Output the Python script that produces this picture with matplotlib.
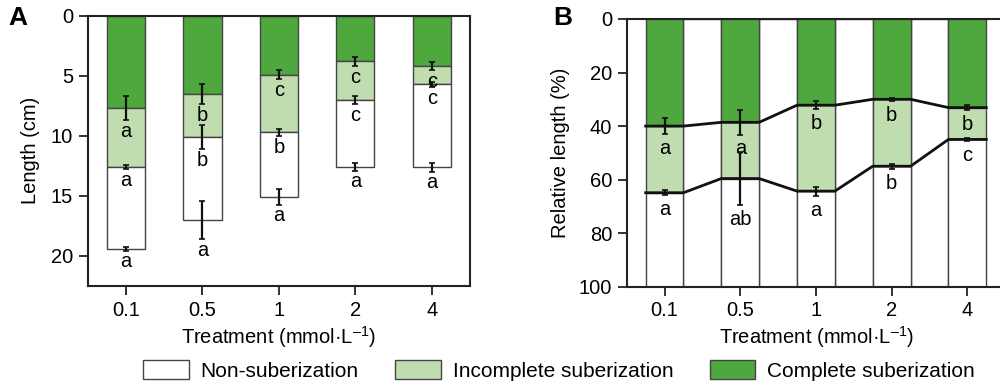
import numpy as np
import matplotlib.pyplot as plt
from matplotlib.patches import Patch

plt.rcParams['font.family'] = ['Liberation Sans', 'DejaVu Sans']
plt.rcParams['mathtext.fontset'] = 'custom'
plt.rcParams['mathtext.rm'] = 'Liberation Sans'
plt.rcParams['mathtext.default'] = 'regular'

# treatments
treat = ['0.1', '0.5', '1', '2', '4']

# panel A: segment lengths (cm), from root tip downward
a_complete = [7.7, 6.5, 4.9, 3.8, 4.2]
a_incomplete = [4.9, 3.6, 4.8, 3.2, 1.5]
a_non = [6.8, 6.9, 5.4, 5.6, 6.9]
a_err1 = [1.0, 0.83, 0.35, 0.35, 0.35]
a_err2 = [0.15, 1.0, 0.28, 0.32, 0.22]
a_err3 = [0.15, 1.6, 0.64, 0.3, 0.37]
a_let1 = ['a', 'b', 'c', 'c', 'c']
a_let2 = ['a', 'b', 'b', 'c', 'c']
a_let3 = ['a', 'a', 'a', 'a', 'a']

# panel B: relative length (%)
b_complete = [40.0, 38.6, 32.2, 30.0, 33.1]
b_incomplete = [24.9, 21.0, 32.1, 25.0, 11.9]
b_err1 = [3.1, 4.6, 1.55, 0.6, 1.0]
b_err2 = [0.9, 9.8, 1.7, 1.0, 0.5]
b_let1 = ['a', 'a', 'b', 'b', 'b']
b_let2 = ['a', 'ab', 'a', 'b', 'c']

DARK = '#4fa83e'
LIGHT = '#c0ddb0'
EDGE = '#444444'
FS = 14.5

fig = plt.figure(figsize=(10, 3.9), dpi=100)
ax1 = fig.add_axes([0.0877, 0.2667, 0.3823, 0.693])
ax2 = fig.add_axes([0.6267, 0.2649, 0.3785, 0.6864])

x = np.arange(len(treat))
w = 0.5


def letters(ax, xs, ys, labs, off):
    for xi, yi, t in zip(xs, ys, labs):
        ax.annotate(t, (xi, yi), xytext=(0, -off), textcoords='offset points',
                    ha='center', va='top', fontsize=FS)


# ---- A ----
c1 = np.array(a_complete)
c2 = c1 + np.array(a_incomplete)
c3 = c2 + np.array(a_non)
ax1.bar(x, c1, w, color=DARK, edgecolor=EDGE, lw=1, zorder=2)
ax1.bar(x, a_incomplete, w, bottom=c1, color=LIGHT, edgecolor=EDGE, lw=1, zorder=2)
ax1.bar(x, a_non, w, bottom=c2, color='white', edgecolor=EDGE, lw=1, zorder=2)
for cum, err in [(c1, a_err1), (c2, a_err2), (c3, a_err3)]:
    ax1.errorbar(x, cum, yerr=err, fmt='none', ecolor='#111111', elinewidth=1.6,
                 capsize=2.2, capthick=1.2, zorder=3)
letters(ax1, x, c1 + np.array(a_err1), a_let1, 1.5)
letters(ax1, x, c2 + np.array(a_err2), a_let2, 1.5)
letters(ax1, x, c3 + np.array(a_err3), a_let3, 1.0)
ax1.set_xlim(-0.5, 4.5)
ax1.set_ylim(22.5, 0)
ax1.set_yticks([0, 5, 10, 15, 20])
ax1.set_ylabel('Length (cm)', fontsize=FS, labelpad=8)

# ---- B ----
d1 = np.array(b_complete)
d2 = d1 + np.array(b_incomplete)
gaps = x[:-1] + 0.5
ax2.bar(gaps, 100, w, color='white', edgecolor=EDGE, lw=1, zorder=1)
ax2.bar(x, d1, w, color=DARK, edgecolor=EDGE, lw=1, zorder=2)
ax2.bar(x, b_incomplete, w, bottom=d1, color=LIGHT, edgecolor=EDGE, lw=1, zorder=2)
ax2.bar(x, 100 - d2, w, bottom=d2, color='white', edgecolor=EDGE, lw=1, zorder=2)
for cum in [d1, d2]:
    xs = np.column_stack([x - w / 2, x + w / 2]).ravel()
    ys = np.repeat(cum, 2)
    ax2.plot(xs, ys, color='#111111', lw=2, zorder=3)
for cum, err in [(d1, b_err1), (d2, b_err2)]:
    ax2.errorbar(x, cum, yerr=err, fmt='none', ecolor='#111111', elinewidth=1.6,
                 capsize=2.2, capthick=1.2, zorder=4)
letters(ax2, x, d1 + np.array(b_err1), b_let1, 3.5)
letters(ax2, x, d2 + np.array(b_err2), b_let2, 3.5)
ax2.set_xlim(-0.5, 4.5)
ax2.set_ylim(100, 0)
ax2.set_yticks([0, 20, 40, 60, 80, 100])
ax2.set_ylabel('Relative length (%)', fontsize=FS, labelpad=6)
ax2.spines['right'].set_visible(False)

for ax in (ax1, ax2):
    ax.set_xticks(x)
    ax.set_xticklabels(treat)
    ax.set_xlabel('Treatment (mmol·L$^{–1}$)', fontsize=FS, labelpad=3)
    ax.tick_params(labelsize=FS, length=6.5, width=1.3, pad=4, color='#222222')
    for s in ax.spines.values():
        s.set_linewidth(1.5)
        s.set_color('#222222')

fig.text(0.008, 0.955, 'A', fontsize=19, fontweight='bold', va='center')
fig.text(0.553, 0.955, 'B', fontsize=19, fontweight='bold', va='center')

handles = [Patch(facecolor='white', edgecolor=EDGE),
           Patch(facecolor=LIGHT, edgecolor=EDGE),
           Patch(facecolor=DARK, edgecolor=EDGE)]
fig.legend(handles, ['Non-suberization', 'Incomplete suberization', 'Complete suberization'],
           loc='center', bbox_to_anchor=(0.559, 0.05), ncol=3, frameon=False,
           fontsize=15, handlelength=2.2, handleheight=1.0, handletextpad=0.55,
           columnspacing=1.75, borderaxespad=0)

fig.savefig('out.png', dpi=100)
